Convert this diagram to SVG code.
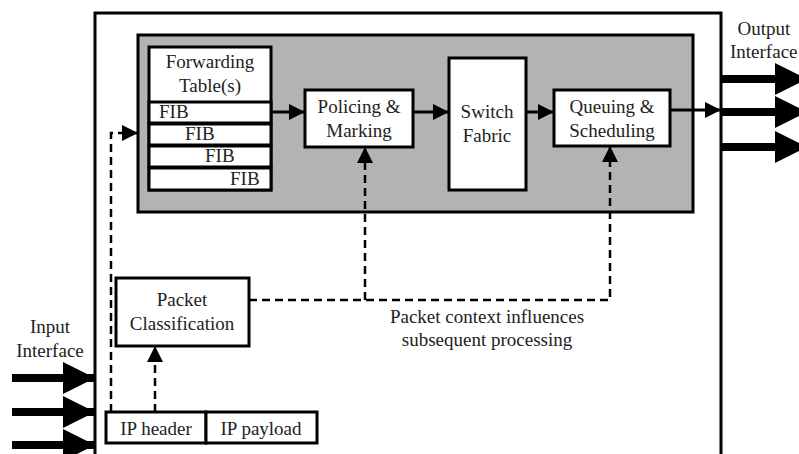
<svg xmlns="http://www.w3.org/2000/svg" width="799" height="454" viewBox="0 0 799 454">
<defs>
<style>
.box{fill:#fff;stroke:#000;stroke-width:3}
.t{font-family:"Liberation Serif","Times New Roman",serif;font-size:19px;fill:#222;text-anchor:middle}
.tl{font-family:"Liberation Serif","Times New Roman",serif;font-size:19px;fill:#222}
.solid{fill:none;stroke:#000;stroke-width:3}
.dash{fill:none;stroke:#000;stroke-width:2.5;stroke-dasharray:8,5}
.thick{fill:none;stroke:#000;stroke-width:8}
</style>
<marker id="ahs" markerWidth="16" markerHeight="16" refX="15" refY="8" orient="auto" markerUnits="userSpaceOnUse" viewBox="0 0 16 16">
<path d="M0,0 L16,8 L0,16 z" fill="#000"/>
</marker>
<marker id="big" markerWidth="32" markerHeight="32" refX="31" refY="16" orient="auto" markerUnits="userSpaceOnUse" viewBox="0 0 32 32">
<path d="M0,0 L32,16 L0,32 z" fill="#000"/>
</marker>
</defs>
<rect width="799" height="454" fill="#fff"/>
<g id="router">
<rect x="95" y="13" width="626" height="460" fill="#fff" stroke="#000" stroke-width="3"/>
</g>
<g id="core">
<rect x="138" y="35" width="555" height="177" fill="#b3b3b3" stroke="#000" stroke-width="3"/>
</g>
<g id="fwd">
<rect class="box" x="149" y="47" width="122" height="143" stroke-width="3.5"/>
<text class="t" x="210" y="68">Forwarding</text>
<text class="t" x="210" y="92">Table(s)</text>
<rect class="box" x="149" y="102" width="122" height="21"/>
<text class="tl" x="159" y="118">FIB</text>
<rect class="box" x="149" y="124" width="122" height="21"/>
<text class="tl" x="185" y="140">FIB</text>
<rect class="box" x="149" y="146" width="122" height="21"/>
<text class="tl" x="205" y="162">FIB</text>
<rect class="box" x="149" y="168" width="122" height="22"/>
<text class="tl" x="230" y="185">FIB</text>
</g>
<g id="policing">
<rect class="box" x="305" y="90" width="108" height="57"/>
<text class="t" x="359" y="113">Policing &amp;</text>
<text class="t" x="359" y="137">Marking</text>
</g>
<g id="switch">
<rect class="box" x="449" y="58" width="77" height="132"/>
<text class="t" x="487" y="118">Switch</text>
<text class="t" x="487" y="142">Fabric</text>
</g>
<g id="queuing">
<rect class="box" x="554" y="90" width="116" height="56"/>
<text class="t" x="612" y="113">Queuing &amp;</text>
<text class="t" x="612" y="137">Scheduling</text>
</g>
<g id="classification">
<rect class="box" x="116" y="278" width="133" height="68"/>
<text class="t" x="182" y="306">Packet</text>
<text class="t" x="182" y="330">Classification</text>
</g>
<g id="packet">
<rect class="box" x="106" y="412" width="100" height="31"/>
<text class="t" x="156" y="435">IP header</text>
<rect class="box" x="206" y="412" width="111" height="31"/>
<text class="t" x="261" y="435">IP payload</text>
</g>
<g id="labels">
<text class="t" x="764" y="35">Output</text>
<text class="tl" x="730" y="58">Interface</text>
<text class="t" x="50" y="333">Input</text>
<text class="t" x="50" y="357">Interface</text>
<text class="t" x="487" y="323">Packet context influences</text>
<text class="t" x="487" y="346">subsequent processing</text>
</g>
<g id="connectors">
<line class="solid" x1="271" y1="112" x2="304" y2="112" marker-end="url(#ahs)"/>
<line class="solid" x1="413" y1="112" x2="448" y2="112" marker-end="url(#ahs)"/>
<line class="solid" x1="526" y1="112" x2="553" y2="112" marker-end="url(#ahs)"/>
<line class="solid" x1="670" y1="110" x2="720" y2="110" marker-end="url(#ahs)"/>
<line class="thick" x1="722" y1="79" x2="806" y2="79" marker-end="url(#big)"/>
<line class="thick" x1="722" y1="112" x2="806" y2="112" marker-end="url(#big)"/>
<line class="thick" x1="722" y1="147" x2="806" y2="147" marker-end="url(#big)"/>
<line class="thick" x1="12" y1="378" x2="94" y2="378" marker-end="url(#big)"/>
<line class="thick" x1="12" y1="412" x2="94" y2="412" marker-end="url(#big)"/>
<line class="thick" x1="12" y1="445" x2="94" y2="445" marker-end="url(#big)"/>
<polyline class="dash" points="111,412 111,133 137,133" marker-end="url(#ahs)"/>
<line class="dash" x1="155" y1="412" x2="155" y2="347" marker-end="url(#ahs)"/>
<polyline class="dash" points="249,300 610,300 610,147" marker-end="url(#ahs)"/>
<line class="dash" x1="365" y1="300" x2="365" y2="148" marker-end="url(#ahs)"/>
</g>
</svg>
